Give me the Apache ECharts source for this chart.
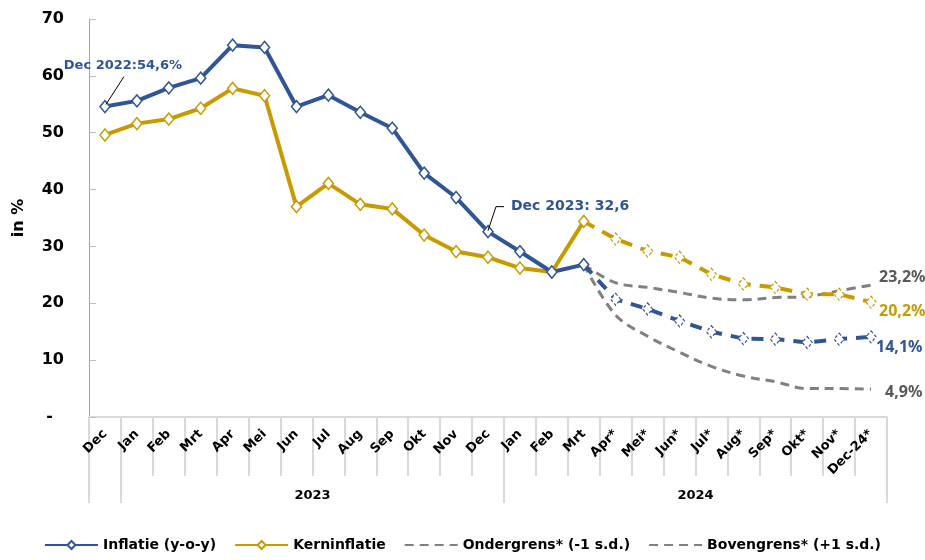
<!DOCTYPE html>
<html><head><meta charset="utf-8">
<script src="https://cdn.jsdelivr.net/npm/echarts@6/dist/echarts.min.js"></script>
<style>html,body{margin:0;padding:0;background:#fff}#c{width:925px;height:560px}</style>
</head><body><div id="c"></div>
<script>
const categories = ['Dec','Jan','Feb','Mrt','Apr','Mei','Jun','Jul','Aug','Sep','Okt','Nov','Dec','Jan','Feb','Mrt','Apr*','Mei*','Jun*','Jul*','Aug*','Sep*','Okt*','Nov*','Dec-24*'];
const yearLabels = ['2023', '2024'];
const yearGroupStart = [1, 13];
const inflatie = [54.6,55.6,57.9,59.6,65.4,65.0,54.6,56.6,53.6,50.8,42.9,38.6,32.6,29.1,25.5,26.8];
const inflatieProg = [26.8,20.7,19.0,16.9,15.0,13.8,13.7,13.1,13.7,14.1];
const kern = [49.6,51.6,52.4,54.3,57.8,56.5,37.0,41.1,37.4,36.6,32.0,29.1,28.1,26.2,25.5,34.4];
const kernProg = [34.4,31.3,29.2,28.1,25.1,23.4,22.8,21.6,21.6,20.2];
const onder = [26.8,17.9,14.2,11.4,8.9,7.2,6.2,5.0,5.0,4.9];
const boven = [26.8,23.6,22.8,21.9,20.9,20.6,21.0,21.2,22.2,23.2];
const yMin = 0, yMax = 70, yStep = 10;
const annotations = [
  {index: 0, value: 54.6, text: 'Dec 2022:54,6%'},
  {index: 12, value: 32.6, text: 'Dec 2023: 32,6'}
];

const BLUE = '#2F5597', GOLD = '#C99A00', GRAY = '#808080', LGRAY = '#595959';
const FONT = 'DejaVu Sans';
const progStart = inflatie.length - 1;
const pad = arr => Array(progStart).fill(null).concat(arr);
const fmt = v => v.toFixed(1).replace('.', ',') + '%';

const chart = echarts.init(document.getElementById('c'), null, {renderer: 'canvas'});

function solidSeries(name, data, color) {
  return {
    name, type: 'line', data, z: 5,
    symbol: 'diamond', symbolSize: [10, 12],
    lineStyle: {color, width: 4},
    itemStyle: {color: '#fff', borderColor: color, borderWidth: 1.5},
    emphasis: {disabled: true}
  };
}
function progSeries(name, arr, color, labelColor, offset) {
  const data = pad(arr).map((v, i) => (i === progStart ? {value: v, symbol: 'none'} : v));
  return {
    name, type: 'line', data, z: 4,
    symbol: 'diamond', symbolSize: [10, 12],
    lineStyle: {color, width: 4, type: [12, 9]},
    itemStyle: {color: '#fff', borderColor: color, borderWidth: 1.2, borderType: [3, 2]},
    endLabel: {show: true, formatter: p => fmt(p.value), color: labelColor, fontFamily: 'Noto Sans', fontWeight: 'bold', fontSize: 16, offset},
    emphasis: {disabled: true}
  };
}
function bandSeries(name, arr, offset) {
  return {
    name, type: 'line', data: pad(arr), z: 3,
    symbol: 'none', smooth: 0.35,
    lineStyle: {color: GRAY, width: 3, type: [9, 6]},
    itemStyle: {color: GRAY},
    endLabel: {show: true, formatter: p => fmt(p.value), color: LGRAY, fontFamily: 'Noto Sans', fontWeight: 'bold', fontSize: 16, offset},
    emphasis: {disabled: true}
  };
}

const yearAt = {};
yearGroupStart.forEach((s, k) => { yearAt[s + 5] = yearLabels[k]; });
const sepTicks = [0].concat(yearGroupStart);
const noSymbol = {color: 'rgba(0,0,0,0)', borderColor: 'rgba(0,0,0,0)', borderWidth: 0};

chart.setOption({
  animation: false,
  backgroundColor: '#fff',
  grid: {left: 89, right: 38, top: 19, bottom: 143},
  legend: {
    bottom: 3, left: 'center', itemWidth: 53, itemHeight: 10, itemGap: 18,
    data: [
      {name: 'Inflatie (y-o-y)'},
      {name: 'Kerninflatie'},
      {name: 'Ondergrens* (-1 s.d.)', itemStyle: noSymbol},
      {name: 'Bovengrens* (+1 s.d.)', itemStyle: noSymbol}
    ],
    textStyle: {fontFamily: FONT, fontWeight: 'bold', fontSize: 14, color: '#000'}
  },
  xAxis: [
    {
      type: 'category', data: categories, boundaryGap: true,
      axisLine: {lineStyle: {color: '#d9d9d9', width: 2}},
      axisTick: {show: true, interval: 0, length: 59, lineStyle: {color: '#d9d9d9', width: 2}},
      axisLabel: {interval: 0, rotate: 45, margin: 15, fontFamily: FONT, fontWeight: 'bold', fontSize: 13, color: '#000'}
    },
    {
      type: 'category', data: categories, boundaryGap: true, position: 'bottom', offset: 0,
      axisLine: {show: false},
      axisTick: {show: true, length: 86, interval: i => sepTicks.indexOf(i) >= 0, lineStyle: {color: '#d9d9d9', width: 2}},
      axisLabel: {
        interval: i => yearAt[i] !== undefined, formatter: (v, i) => yearAt[i] || '',
        margin: 72, padding: [0, 0, 0, 32],
        fontFamily: FONT, fontWeight: 'bold', fontSize: 13, color: '#000'
      }
    }
  ],
  yAxis: {
    type: 'value', min: yMin, max: yMax, interval: yStep,
    name: 'in %', nameLocation: 'middle', nameGap: 62, nameRotate: 90,
    nameTextStyle: {fontFamily: FONT, fontWeight: 'bold', fontSize: 16, color: '#000'},
    splitLine: {show: false},
    axisLine: {show: true, lineStyle: {color: '#a6a6a6', width: 1}},
    axisTick: {show: true, inside: true, length: 7, lineStyle: {color: '#bfbfbf'}},
    axisLabel: {formatter: v => (v === 0 ? '-  ' : String(v)), margin: 25, fontFamily: FONT, fontWeight: 'bold', fontSize: 16, color: '#000'}
  },
  series: [
    bandSeries('Ondergrens* (-1 s.d.)', onder, [6, 3]),
    bandSeries('Bovengrens* (+1 s.d.)', boven, [0, -8]),
    progSeries('Inflatie prognose', inflatieProg, BLUE, BLUE, [-3, 11]),
    progSeries('Kerninflatie prognose', kernProg, GOLD, GOLD, [0, 9]),
    solidSeries('Kerninflatie', kern, GOLD),
    solidSeries('Inflatie (y-o-y)', inflatie, BLUE)
  ]
});

// annotation callouts, anchored to the data points through the chart's scales
const g = [];
const a0 = annotations[0], p0 = chart.convertToPixel({xAxisIndex: 0, yAxisIndex: 0}, [a0.index, a0.value]);
g.push({type: 'polyline', z: 10, shape: {points: [[p0[0] + 1, p0[1] - 2], [p0[0] + 19, p0[1] - 30]]}, style: {stroke: '#000', lineWidth: 1, fill: null}});
g.push({type: 'text', z: 10, style: {text: a0.text, x: p0[0] + 18, y: p0[1] - 41, align: 'center', verticalAlign: 'middle', font: 'bold 13px "DejaVu Sans"', fill: BLUE}});
const a1 = annotations[1], p1 = chart.convertToPixel({xAxisIndex: 0, yAxisIndex: 0}, [a1.index, a1.value]);
g.push({type: 'polyline', z: 10, shape: {points: [[p1[0], p1[1] - 1], [p1[0] + 8, p1[1] - 25], [p1[0] + 16, p1[1] - 25]]}, style: {stroke: '#000', lineWidth: 1, fill: null}});
g.push({type: 'text', z: 10, style: {text: a1.text, x: p1[0] + 23, y: p1[1] - 25, align: 'left', verticalAlign: 'middle', font: 'bold 14px "DejaVu Sans"', fill: BLUE}});
chart.setOption({graphic: g});
</script>
</body></html>
